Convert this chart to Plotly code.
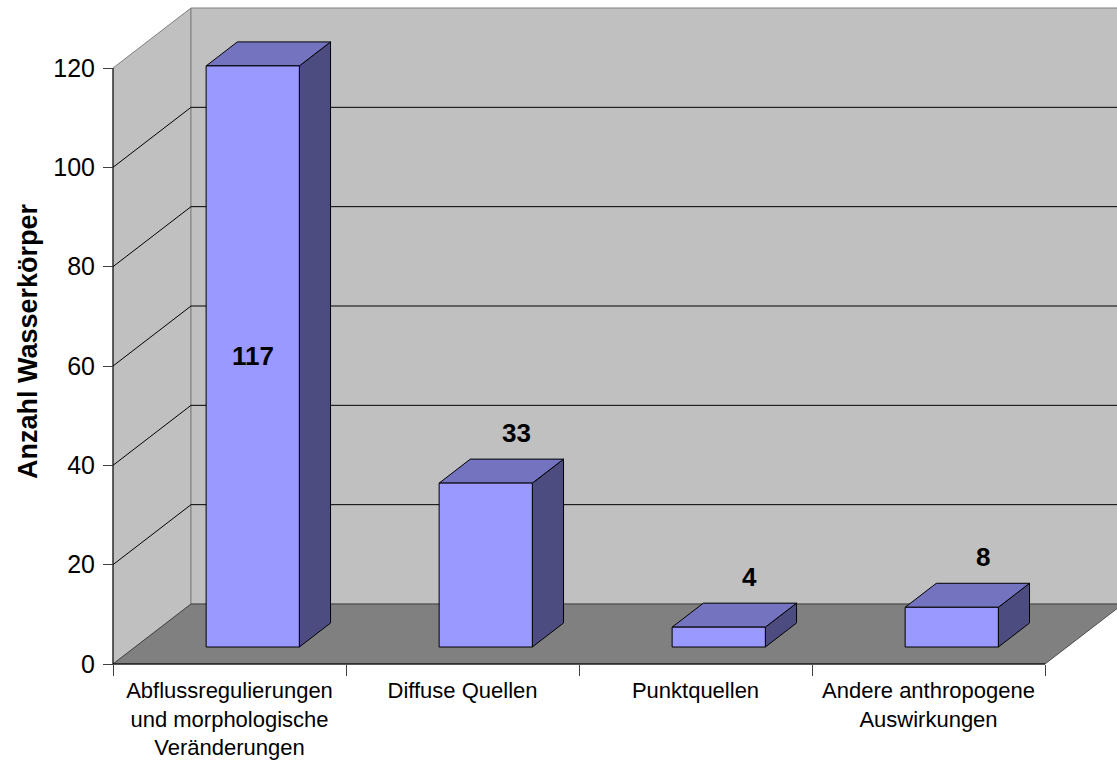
import plotly.graph_objects as go

# ---------------- data ----------------
categories = [
    "Abflussregulierungen<br>und morphologische<br>Veränderungen",
    "Diffuse Quellen",
    "Punktquellen",
    "Andere anthropogene<br>Auswirkungen",
]
values = [117, 33, 4, 8]
y_ticks = [0, 20, 40, 60, 80, 100, 120]
y_title = "Anzahl Wasserkörper"

# ---------------- geometry / style ----------------
W, H = 1117, 762
X0_PX, X1_PX = 113, 1045      # front x-axis extent in pixels
Y0_PX, YMAX_PX = 664, 68      # pixel rows of 0 and of the top tick on the front axis
DEPTH_X_PX, DEPTH_Y_PX = 78, 60
FONT = "Liberation Sans, Arial, sans-serif"

WALL = "#C0C0C0"
FLOOR = "#808080"
BORDER = "#808080"
FRONT = "#9999FF"
TOP = "#7373BF"
SIDE = "#4C4C80"

BAR_X0, BAR_X1 = 0.305, 0.705   # bar extent inside a category slot
BAR_D0, BAR_D1 = 0.283, 0.683   # bar extent in depth
LABEL_PAD = 5.3                 # label offset above a bar (value units)

n = len(categories)
ymax = y_ticks[-1]
px_per_x = (X1_PX - X0_PX) / n
px_per_y = (Y0_PX - YMAX_PX) / ymax
x_range = [-X0_PX / px_per_x, (W - X0_PX) / px_per_x]
y_range = [-(H - Y0_PX) / px_per_y, Y0_PX / px_per_y]
DX = DEPTH_X_PX / px_per_x
DY = DEPTH_Y_PX / px_per_y


def P(x, y, d):
    """project (category x, value y, depth d) to 2-D data coords"""
    return x + d * DX, y + d * DY


fig = go.Figure()


def poly(points, fill, line_color, width=1.0):
    xs = [P(*p)[0] for p in points] + [P(*points[0])[0]]
    ys = [P(*p)[1] for p in points] + [P(*points[0])[1]]
    fig.add_trace(go.Scatter(x=xs, y=ys, mode="lines", fill="toself",
                             fillcolor=fill, line=dict(color=line_color, width=width),
                             hoverinfo="skip", showlegend=False))


def line(points, color, width=1.0):
    fig.add_trace(go.Scatter(x=[P(*p)[0] for p in points], y=[P(*p)[1] for p in points],
                             mode="lines", line=dict(color=color, width=width),
                             hoverinfo="skip", showlegend=False))


# walls and floor
poly([(0, 0, 0), (0, 0, 1), (0, ymax, 1), (0, ymax, 0)], WALL, BORDER)
poly([(0, 0, 1), (n, 0, 1), (n, ymax, 1), (0, ymax, 1)], WALL, BORDER)
poly([(0, 0, 0), (n, 0, 0), (n, 0, 1), (0, 0, 1)], FLOOR, "#303030", 0.8)

# gridlines on the walls
for v in y_ticks[1:-1]:
    line([(0, v, 0), (0, v, 1), (n, v, 1)], "#000000", 1)

# axis lines
line([(0, 0, 0), (0, ymax, 0)], "#000000", 1)
line([(0, 0, 0), (n, 0, 0)], "#000000", 1)

# bars
annotations = []
for i, v in enumerate(values):
    xa, xb = i + BAR_X0, i + BAR_X1
    poly([(xb, 0, BAR_D0), (xb, 0, BAR_D1), (xb, v, BAR_D1), (xb, v, BAR_D0)], SIDE, "#000000", 1)
    poly([(xa, v, BAR_D0), (xb, v, BAR_D0), (xb, v, BAR_D1), (xa, v, BAR_D1)], TOP, "#000000", 1)
    poly([(xa, 0, BAR_D0), (xb, 0, BAR_D0), (xb, v, BAR_D0), (xa, v, BAR_D0)], FRONT, "#000000", 1)
    if v + LABEL_PAD > ymax:
        lx, ly = P((xa + xb) / 2, v / 2, BAR_D0)
    else:
        lx, ly = P((xa + xb) / 2, v + LABEL_PAD, BAR_D1)
    annotations.append(dict(x=lx, y=ly, xref="x", yref="y", text=f"<b>{v}</b>",
                            showarrow=False, xanchor="center", yanchor="middle",
                            font=dict(family=FONT, size=26, color="#000000")))

annotations.append(dict(x=28 / W, y=1 - 341 / H, xref="paper", yref="paper",
                        text=f"<b>{y_title}</b>", textangle=-90, showarrow=False,
                        xanchor="center", yanchor="middle",
                        font=dict(family=FONT, size=27, color="#000000")))

fig.update_layout(
    width=W, height=H,
    margin=dict(l=0, r=0, t=0, b=0),
    paper_bgcolor="#FFFFFF", plot_bgcolor="#FFFFFF",
    showlegend=False,
    annotations=annotations,
    xaxis=dict(range=x_range, showgrid=False, zeroline=False, showline=False,
               anchor="free", position=(H - Y0_PX) / H, automargin=False,
               tickmode="array", tickvals=[i + 0.5 for i in range(n)], ticktext=categories,
               ticks="", ticklabelstandoff=11,
               tickfont=dict(family=FONT, size=22, color="#000000"),
               minor=dict(tickmode="array", tickvals=list(range(n + 1)), ticks="outside",
                          ticklen=11, tickcolor="#404040", tickwidth=1, showgrid=False)),
    yaxis=dict(range=y_range, showgrid=False, zeroline=False, showline=False,
               anchor="free", position=X0_PX / W, automargin=False,
               tickmode="array", tickvals=y_ticks, ticks="outside", ticklen=10,
               tickcolor="#404040", tickwidth=1, ticklabelstandoff=3,
               tickfont=dict(family=FONT, size=25, color="#000000")),
)

fig.write_html("out.html")
